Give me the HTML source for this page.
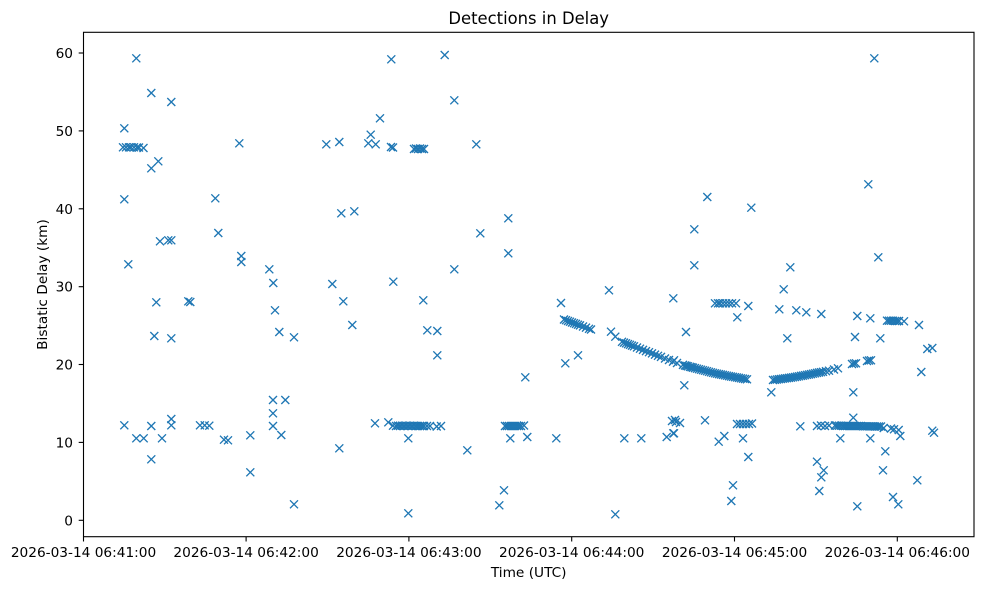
<!DOCTYPE html>
<html>
<head>
<meta charset="utf-8">
<style>
html,body{margin:0;padding:0;background:#fff;}
svg{display:block;}
text{font-family:"DejaVu Sans","Liberation Sans",sans-serif;fill:#000;}
</style>
</head>
<body>
<svg width="984" height="590" viewBox="0 0 984 590" xmlns="http://www.w3.org/2000/svg">
<defs>
<path id="m" d="M-4,-4L4,4M-4,4L4,-4" stroke="#1f77b4" stroke-width="1.35" fill="none"/>
</defs>
<rect x="0" y="0" width="984" height="590" fill="#fff"/>
<text x="528.7" y="24" font-size="16.4" text-anchor="middle">Detections in Delay</text>

<g id="pts">
<!-- left region -->
<use href="#m" x="136.3" y="58.3"/><use href="#m" x="151.3" y="93"/><use href="#m" x="171.3" y="102"/>
<use href="#m" x="124.3" y="128.3"/>
<use href="#m" x="123" y="147.3"/><use href="#m" x="126" y="147.3"/><use href="#m" x="129" y="147.3"/><use href="#m" x="131" y="147.3"/><use href="#m" x="134" y="147.3"/><use href="#m" x="137" y="147.5"/><use href="#m" x="139" y="147.5"/><use href="#m" x="143.5" y="148"/>
<use href="#m" x="239.3" y="143.3"/><use href="#m" x="326.3" y="144.3"/><use href="#m" x="339.3" y="142"/>
<use href="#m" x="380" y="118.3"/><use href="#m" x="370.7" y="134.7"/><use href="#m" x="368.3" y="143.3"/><use href="#m" x="375.7" y="144.3"/>
<use href="#m" x="158.3" y="161.3"/><use href="#m" x="151.3" y="168.3"/>
<use href="#m" x="124.3" y="199.3"/><use href="#m" x="215.3" y="198.3"/>
<use href="#m" x="341.3" y="213.3"/><use href="#m" x="354.3" y="211.3"/>
<use href="#m" x="218.3" y="233"/>
<use href="#m" x="160" y="241.3"/><use href="#m" x="168.3" y="240.3"/><use href="#m" x="171.3" y="240.3"/>
<use href="#m" x="128.3" y="264.3"/>
<use href="#m" x="241.3" y="256"/><use href="#m" x="241.3" y="262"/>
<use href="#m" x="269.3" y="269.3"/><use href="#m" x="273.3" y="283"/><use href="#m" x="332.3" y="284"/>
<use href="#m" x="156.3" y="302.3"/><use href="#m" x="188.3" y="301.3"/><use href="#m" x="190.3" y="302"/>
<use href="#m" x="275" y="310.3"/><use href="#m" x="343.3" y="301.3"/><use href="#m" x="352.3" y="325"/>
<use href="#m" x="154.3" y="336"/><use href="#m" x="171.3" y="338.3"/><use href="#m" x="279.3" y="332"/><use href="#m" x="294" y="337.3"/>
<use href="#m" x="273" y="400"/><use href="#m" x="285.3" y="400"/><use href="#m" x="273" y="413.3"/>
<use href="#m" x="124.3" y="425.3"/><use href="#m" x="151.3" y="426"/><use href="#m" x="171.3" y="419"/><use href="#m" x="171.3" y="425.3"/>
<use href="#m" x="200" y="425.3"/><use href="#m" x="204.7" y="425.3"/><use href="#m" x="209.3" y="425.7"/><use href="#m" x="273" y="426"/>
<use href="#m" x="136.3" y="438.3"/><use href="#m" x="143.7" y="438.3"/><use href="#m" x="162" y="438.3"/><use href="#m" x="224" y="439.7"/><use href="#m" x="228" y="440.3"/>
<use href="#m" x="250.3" y="435.3"/><use href="#m" x="281.3" y="435"/><use href="#m" x="339.3" y="448.3"/>
<use href="#m" x="151.3" y="459.3"/><use href="#m" x="250.3" y="472.3"/><use href="#m" x="294" y="504.3"/>

<!-- middle region -->
<use href="#m" x="391.3" y="59.3"/><use href="#m" x="444.7" y="55"/><use href="#m" x="454.3" y="100.3"/>
<use href="#m" x="391" y="147"/><use href="#m" x="393" y="147.5"/>
<use href="#m" x="414" y="149"/><use href="#m" x="416" y="148.5"/><use href="#m" x="418" y="149"/><use href="#m" x="420" y="148.5"/><use href="#m" x="422" y="149"/><use href="#m" x="424" y="149"/>
<use href="#m" x="476.3" y="144.3"/>
<use href="#m" x="508.3" y="218.3"/><use href="#m" x="480.3" y="233.3"/><use href="#m" x="508.3" y="253.3"/><use href="#m" x="454.3" y="269.3"/>
<use href="#m" x="393.3" y="281.7"/><use href="#m" x="423.3" y="300.3"/>
<use href="#m" x="427.3" y="330.3"/><use href="#m" x="437.3" y="331"/><use href="#m" x="437.3" y="355.3"/>
<use href="#m" x="525.3" y="377.3"/><use href="#m" x="561" y="303"/><use href="#m" x="609" y="290.3"/><use href="#m" x="673.3" y="298.3"/>
<use href="#m" x="611" y="331.7"/><use href="#m" x="615.3" y="336.7"/>
<use href="#m" x="565.3" y="363.3"/><use href="#m" x="578" y="355.3"/>
<use href="#m" x="375" y="423.3"/><use href="#m" x="388.3" y="422.3"/>
<use href="#m" x="393" y="425.7"/><use href="#m" x="396" y="426"/><use href="#m" x="398" y="425.7"/><use href="#m" x="400" y="426"/><use href="#m" x="402" y="425.7"/><use href="#m" x="404" y="426"/><use href="#m" x="406" y="425.7"/><use href="#m" x="408" y="426"/><use href="#m" x="410" y="425.7"/><use href="#m" x="412" y="426"/><use href="#m" x="414" y="425.7"/><use href="#m" x="416" y="426"/><use href="#m" x="418" y="426"/><use href="#m" x="420" y="426"/><use href="#m" x="422" y="426"/><use href="#m" x="424" y="426"/><use href="#m" x="427" y="426"/><use href="#m" x="430" y="426"/><use href="#m" x="436.7" y="426.5"/><use href="#m" x="441" y="426"/>
<use href="#m" x="408.3" y="438.3"/><use href="#m" x="467.3" y="450.3"/><use href="#m" x="408.3" y="513.3"/>
<use href="#m" x="505" y="426"/><use href="#m" x="507" y="426"/><use href="#m" x="509" y="426"/><use href="#m" x="511" y="426"/><use href="#m" x="513" y="426"/><use href="#m" x="515" y="426"/><use href="#m" x="517" y="426"/><use href="#m" x="519" y="426"/><use href="#m" x="521" y="426"/><use href="#m" x="524" y="425.5"/>
<use href="#m" x="510.3" y="438.3"/><use href="#m" x="527.3" y="437"/>
<use href="#m" x="556.3" y="438.3"/><use href="#m" x="504" y="490.3"/><use href="#m" x="499.3" y="505.3"/>
<use href="#m" x="624.3" y="438.3"/><use href="#m" x="641.3" y="438.3"/><use href="#m" x="666.7" y="437"/><use href="#m" x="673.3" y="433.3"/><use href="#m" x="675" y="420"/>
<use href="#m" x="615.3" y="514.3"/>

<!-- curve A part 1 -->
<use href="#m" x="564" y="319.5"/><use href="#m" x="566" y="320.2"/><use href="#m" x="568" y="321"/><use href="#m" x="570" y="321.7"/><use href="#m" x="572" y="322.5"/><use href="#m" x="574" y="323.2"/><use href="#m" x="576" y="323.9"/><use href="#m" x="578" y="324.7"/><use href="#m" x="580" y="325.4"/><use href="#m" x="583" y="326.5"/><use href="#m" x="586" y="327.6"/><use href="#m" x="589" y="328.8"/><use href="#m" x="591" y="329.5"/>
<!-- curve A part 2 -->
<use href="#m" x="622" y="341.8"/><use href="#m" x="624" y="342.6"/><use href="#m" x="626" y="343.3"/><use href="#m" x="628" y="344.1"/><use href="#m" x="630" y="344.8"/><use href="#m" x="632" y="345.6"/><use href="#m" x="634" y="346.3"/><use href="#m" x="637" y="347.5"/><use href="#m" x="640" y="348.7"/><use href="#m" x="643" y="349.9"/><use href="#m" x="646" y="351.1"/><use href="#m" x="649" y="352.2"/><use href="#m" x="652" y="353.4"/><use href="#m" x="655" y="354.6"/><use href="#m" x="658" y="355.8"/><use href="#m" x="661" y="356.9"/><use href="#m" x="665" y="358.5"/><use href="#m" x="669" y="360"/><use href="#m" x="673" y="361.6"/><use href="#m" x="677" y="363"/>
<use href="#m" x="674" y="360.3"/>
<!-- curve A part 3 -->
<use href="#m" x="683" y="364.9"/><use href="#m" x="685" y="365.5"/><use href="#m" x="686.5" y="365.9"/><use href="#m" x="688" y="366.3"/><use href="#m" x="690" y="366.8"/><use href="#m" x="691.5" y="367.2"/><use href="#m" x="693" y="367.6"/><use href="#m" x="695" y="368.1"/><use href="#m" x="697" y="368.7"/><use href="#m" x="699" y="369.2"/><use href="#m" x="701" y="369.7"/><use href="#m" x="703" y="370.2"/><use href="#m" x="705" y="370.7"/><use href="#m" x="707" y="371.2"/><use href="#m" x="709" y="371.8"/><use href="#m" x="711" y="372.3"/><use href="#m" x="713" y="372.8"/><use href="#m" x="715" y="373.3"/><use href="#m" x="717" y="373.7"/><use href="#m" x="719" y="374.1"/><use href="#m" x="721" y="374.5"/><use href="#m" x="723" y="374.9"/><use href="#m" x="725" y="375.3"/><use href="#m" x="727" y="375.7"/><use href="#m" x="729" y="376.1"/><use href="#m" x="731" y="376.5"/><use href="#m" x="733" y="376.8"/><use href="#m" x="735" y="377.2"/><use href="#m" x="737" y="377.5"/><use href="#m" x="739" y="377.9"/><use href="#m" x="741" y="378.3"/><use href="#m" x="743" y="378.6"/><use href="#m" x="745" y="379"/><use href="#m" x="747" y="379.3"/>
<!-- curve B -->
<use href="#m" x="773" y="380"/><use href="#m" x="775" y="379.8"/><use href="#m" x="777" y="379.5"/><use href="#m" x="779" y="379.2"/><use href="#m" x="781" y="379"/><use href="#m" x="783" y="378.7"/><use href="#m" x="785" y="378.4"/><use href="#m" x="787" y="378.2"/><use href="#m" x="789" y="377.9"/><use href="#m" x="791" y="377.6"/><use href="#m" x="793" y="377.3"/><use href="#m" x="795" y="377"/><use href="#m" x="797" y="376.6"/><use href="#m" x="799" y="376.3"/><use href="#m" x="801" y="375.9"/><use href="#m" x="803" y="375.6"/><use href="#m" x="805" y="375.2"/><use href="#m" x="807" y="374.8"/><use href="#m" x="809" y="374.5"/><use href="#m" x="811" y="374.1"/><use href="#m" x="813" y="373.7"/><use href="#m" x="815" y="373.3"/><use href="#m" x="817" y="372.9"/><use href="#m" x="819" y="372.5"/><use href="#m" x="821" y="372.2"/><use href="#m" x="823" y="371.8"/><use href="#m" x="826" y="371.2"/><use href="#m" x="829" y="370.7"/><use href="#m" x="834" y="369.5"/><use href="#m" x="838" y="368.3"/>

<!-- right region -->
<use href="#m" x="874.3" y="58.3"/><use href="#m" x="868.3" y="184.3"/><use href="#m" x="707.3" y="197"/><use href="#m" x="751.3" y="207.7"/>
<use href="#m" x="694.3" y="229.3"/><use href="#m" x="694.3" y="265.3"/><use href="#m" x="790.3" y="267.3"/><use href="#m" x="878.3" y="257.3"/>
<use href="#m" x="783.7" y="289.3"/>
<use href="#m" x="715" y="303.3"/><use href="#m" x="718" y="303.3"/><use href="#m" x="720" y="303.3"/><use href="#m" x="723" y="303.3"/><use href="#m" x="726" y="303.3"/><use href="#m" x="729" y="303.3"/><use href="#m" x="732" y="303.3"/><use href="#m" x="736" y="303.3"/>
<use href="#m" x="748.3" y="306"/><use href="#m" x="737.3" y="317.3"/>
<use href="#m" x="779.3" y="309.3"/><use href="#m" x="796.3" y="310.3"/><use href="#m" x="806.3" y="312.3"/><use href="#m" x="821.3" y="314"/>
<use href="#m" x="857.3" y="316"/><use href="#m" x="870.3" y="318.3"/>
<use href="#m" x="887" y="320.7"/><use href="#m" x="889" y="320.7"/><use href="#m" x="891" y="320.7"/><use href="#m" x="893" y="320.7"/><use href="#m" x="895" y="321"/><use href="#m" x="897" y="321"/><use href="#m" x="899" y="321"/><use href="#m" x="904" y="321.3"/>
<use href="#m" x="919" y="325"/>
<use href="#m" x="686" y="332"/><use href="#m" x="787.3" y="338.3"/><use href="#m" x="855" y="337"/><use href="#m" x="880.3" y="338.3"/>
<use href="#m" x="927.3" y="349"/><use href="#m" x="932.3" y="348"/>
<use href="#m" x="684.3" y="385.3"/><use href="#m" x="771.3" y="392.3"/><use href="#m" x="853.3" y="392.3"/>
<use href="#m" x="852" y="364"/><use href="#m" x="854" y="363.5"/><use href="#m" x="856" y="363.3"/>
<use href="#m" x="867" y="361"/><use href="#m" x="869" y="360.5"/><use href="#m" x="871" y="360.3"/>
<use href="#m" x="921.3" y="372"/>
<use href="#m" x="672" y="421"/><use href="#m" x="676" y="422"/><use href="#m" x="680" y="423"/><use href="#m" x="674" y="433.3"/><use href="#m" x="705" y="420.3"/>
<use href="#m" x="737" y="424"/><use href="#m" x="740" y="424"/><use href="#m" x="743" y="424"/><use href="#m" x="746" y="424"/><use href="#m" x="749" y="424"/><use href="#m" x="752" y="423.5"/>
<use href="#m" x="800.3" y="426.3"/><use href="#m" x="817" y="426"/><use href="#m" x="821" y="425.5"/><use href="#m" x="825" y="426"/><use href="#m" x="829" y="425.5"/>
<use href="#m" x="835" y="425.5"/><use href="#m" x="837" y="425.7"/><use href="#m" x="839" y="425.7"/><use href="#m" x="841" y="425.7"/><use href="#m" x="843" y="426"/><use href="#m" x="845" y="426"/><use href="#m" x="847" y="426"/><use href="#m" x="849" y="426"/><use href="#m" x="851" y="426"/><use href="#m" x="853" y="426"/><use href="#m" x="855" y="426"/><use href="#m" x="857" y="426"/><use href="#m" x="859" y="426"/><use href="#m" x="861" y="426"/><use href="#m" x="863" y="426.3"/><use href="#m" x="865" y="426.3"/><use href="#m" x="867" y="426.3"/><use href="#m" x="869" y="426.3"/><use href="#m" x="871" y="426.3"/><use href="#m" x="873" y="426.3"/><use href="#m" x="875" y="426.5"/><use href="#m" x="877" y="426.5"/><use href="#m" x="879" y="426.5"/><use href="#m" x="881" y="426.5"/>
<use href="#m" x="853.3" y="417.7"/>
<use href="#m" x="883.7" y="428"/><use href="#m" x="891" y="428.5"/><use href="#m" x="894" y="429.3"/><use href="#m" x="898.7" y="430"/>
<use href="#m" x="932.3" y="430.7"/><use href="#m" x="934" y="432.7"/>
<use href="#m" x="724.3" y="436"/><use href="#m" x="718.7" y="441.7"/><use href="#m" x="743" y="438.3"/><use href="#m" x="840.3" y="438.3"/><use href="#m" x="870.3" y="438.3"/><use href="#m" x="900.3" y="436"/>
<use href="#m" x="748.3" y="457"/><use href="#m" x="817" y="461.7"/><use href="#m" x="823.7" y="470.3"/><use href="#m" x="821.3" y="477.3"/><use href="#m" x="885.3" y="451.3"/><use href="#m" x="883" y="470.3"/><use href="#m" x="917.3" y="480.3"/><use href="#m" x="819.3" y="491"/><use href="#m" x="733" y="485.3"/><use href="#m" x="731.3" y="501"/><use href="#m" x="893" y="497"/><use href="#m" x="898.3" y="504.3"/><use href="#m" x="857.3" y="506.3"/>
</g>

<!-- axes frame -->
<rect x="83.5" y="32.3" width="890.5" height="504.4" fill="none" stroke="#000" stroke-width="1.1"/>

<!-- y ticks -->
<g stroke="#000" stroke-width="1.1">
<line x1="78.7" y1="520.3" x2="83.5" y2="520.3"/>
<line x1="78.7" y1="442.4" x2="83.5" y2="442.4"/>
<line x1="78.7" y1="364.5" x2="83.5" y2="364.5"/>
<line x1="78.7" y1="286.7" x2="83.5" y2="286.7"/>
<line x1="78.7" y1="208.8" x2="83.5" y2="208.8"/>
<line x1="78.7" y1="130.9" x2="83.5" y2="130.9"/>
<line x1="78.7" y1="53" x2="83.5" y2="53"/>
</g>
<g font-size="13.7" text-anchor="end">
<text x="73" y="525.3">0</text>
<text x="73" y="447.4">10</text>
<text x="73" y="369.5">20</text>
<text x="73" y="291.7">30</text>
<text x="73" y="213.8">40</text>
<text x="73" y="135.9">50</text>
<text x="73" y="58">60</text>
</g>

<!-- x ticks -->
<g stroke="#000" stroke-width="1.1">
<line x1="83.5" y1="536.7" x2="83.5" y2="541.5"/>
<line x1="246.1" y1="536.7" x2="246.1" y2="541.5"/>
<line x1="408.9" y1="536.7" x2="408.9" y2="541.5"/>
<line x1="571.7" y1="536.7" x2="571.7" y2="541.5"/>
<line x1="734.5" y1="536.7" x2="734.5" y2="541.5"/>
<line x1="897.3" y1="536.7" x2="897.3" y2="541.5"/>
</g>
<g font-size="13.7" text-anchor="middle">
<text x="83.5" y="557">2026-03-14 06:41:00</text>
<text x="246.1" y="557">2026-03-14 06:42:00</text>
<text x="408.9" y="557">2026-03-14 06:43:00</text>
<text x="571.7" y="557">2026-03-14 06:44:00</text>
<text x="734.5" y="557">2026-03-14 06:45:00</text>
<text x="897.3" y="557">2026-03-14 06:46:00</text>
</g>

<text x="528.7" y="577" font-size="13.7" text-anchor="middle">Time (UTC)</text>
<text transform="translate(47,284.5) rotate(-90)" font-size="13.7" text-anchor="middle">Bistatic Delay (km)</text>
</svg>
</body>
</html>
